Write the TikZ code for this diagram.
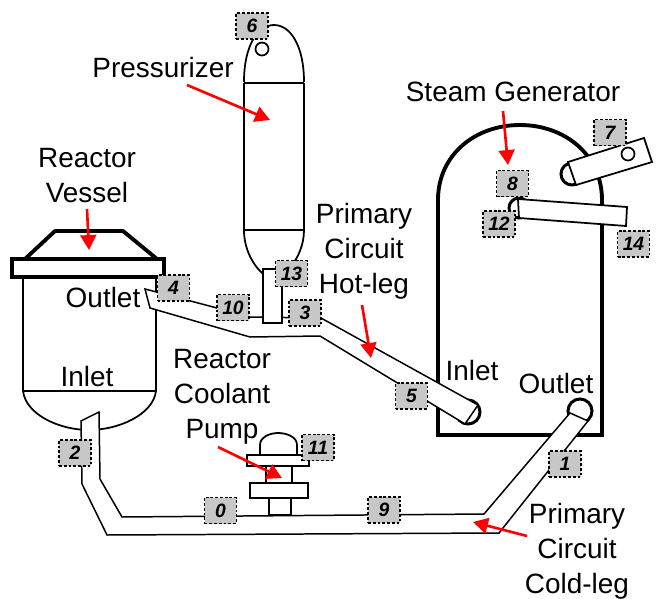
\documentclass[tikz,border=0pt]{standalone}
\usepackage{fontspec}
\setmainfont{Liberation Sans}
\usetikzlibrary{arrows.meta}
\tikzset{
  lbl/.style = {inner sep=0pt, outer sep=0pt, align=center,
                font=\fontsize{15.9}{19.9}\selectfont},
  tag/.style = {fill=black!22, draw, line width=0.8pt, dash pattern=on 1.6pt off 1.1pt,
                minimum width=18pt, minimum height=14.8pt, inner sep=0pt,
                font=\fontsize{11}{12}\selectfont\bfseries\itshape},
  pipe/.style = {fill=white, draw, line width=0.85pt, line join=miter},
  pointer/.style = {red, line width=1.5pt, -{Triangle[length=8.5pt,width=9pt]}}
}

\begin{document}
\begin{tikzpicture}[x=0.02cm,y=-0.02cm]
	\def \wall{1.7pt}
	\def \shell{2.2pt}
	\def \thin{1pt}

	\fill[white] (0,0) rectangle (657,598);

	% Reactor vessel
	\draw[line width=\shell, line join=round] (25,259) -- (55,231) -- (123,231) -- (157,259);
	\draw[line width=\wall] (23,277) -- (23,391);
	\draw[line width=\wall] (156,391) -- (156,277);
	\draw[line width=1.4pt] (23,391) -- (156,391);
	\draw[line width=\thin] (23,391) .. controls (26,415) and (60,430) .. (89,430) .. controls (118,430) and (153,415) .. (156,391);
	\draw[line width=\shell, fill=white] (12,259) rectangle (164,277);

	% Pressurizer
	\draw[line width=\thin] (244,82) .. controls (244,45) and (258,25) .. (274,25) .. controls (290,25) and (304,45) .. (304,82);
	\draw[line width=\thin] (244,83) -- (304,83);
	\draw[line width=1.4pt] (244,83) -- (244,230);
	\draw[line width=\thin] (304,83) -- (304,230);
	\draw[line width=\thin] (244,230) -- (304,230);
	\draw[line width=\thin] (244,230) .. controls (244,248) and (252,264) .. (263,274);
	\draw[line width=\thin] (304,230) .. controls (304,245) and (298,258) .. (290,268);
	\draw[line width=\thin] (262,49) circle (6.5);

	% Steam generator
	\draw[line width=\shell] (438,435) -- (438,200) .. controls (438,155) and (475,125) .. (520,125) .. controls (565,125) and (602,155) .. (602,200) -- (602,435) -- cycle;

	% Steam generator tubes
	\draw[line width=\wall, fill=white] (572,174) circle (11);
	\draw[pipe, line width=\thin] (568,162) -- (644,138) -- (652,162) -- (576,185) -- cycle;
	\draw[line width=\thin] (628,154) circle (6.5);
	\draw[line width=\wall, fill=white] (519,208) circle (10);
	\draw[pipe, line width=\thin] (518,199) -- (627,207) -- (626,226) -- (519,218) -- cycle;

	% Hot-leg
	\draw[line width=\wall, fill=white] (468,412) circle (12);
	\draw[pipe] (145,289) -- (217,308) -- (249,317) -- (321,318) -- (478,405) -- (465,424) -- (320,336) -- (250,337) -- (150,308) -- cycle;
	\draw[pipe] (263,269) rectangle (282,323);

	% Cold-leg
	\draw[line width=\wall, fill=white] (580,411) circle (12);
	\draw[pipe] (81,421) -- (99,412) -- (100,479) -- (122,517) -- (484,514) -- (570,413) -- (588,421) -- (499,533) -- (107,535) -- (82,484) -- cycle;

	% Pump
	\draw[line width=\thin, fill=white] (260,445) .. controls (260,437) and (270,433) .. (278,433) .. controls (287,433) and (297,437) .. (297,445) -- (297,455) -- (260,455) -- cycle;
	\draw[line width=\thin, fill=white] (266,466) rectangle (292,483);
	\draw[line width=\thin, fill=white] (269,498) rectangle (291,515);
	\draw[line width=\thin, fill=white] (247,455) rectangle (309,466);
	\draw[line width=\thin, fill=white] (250,483) rectangle (308,498);

	% Texts
	\node[lbl] (pressurizer) at (163,68) {Pressurizer};
	\node[lbl] (vessel) at (87,176) {Reactor\\Vessel};
	\node[lbl] (hotleg) at (364,251) {Primary\\Circuit\\Hot-leg};
	\node[lbl] (pump) at (222,397) {Reactor\\Coolant\\Pump};
	\node[lbl] (generator) at (513,92) {Steam Generator};
	\node[lbl] (coldleg) at (577,551) {Primary\\Circuit\\Cold-leg};
	\node[lbl] (outletrv) at (103,298) {Outlet};
	\node[lbl] (inletrv) at (87,377) {Inlet};
	\node[lbl] (inletsg) at (472,371) {Inlet};
	\node[lbl] (outletsg) at (556,384) {Outlet};

	% Pointers
	\coordinate (pressurizer end) at (270,120);
	\coordinate (vessel end) at (89,250);
	\coordinate (generator end) at (508,165);
	\coordinate (hotleg end) at (371,358);
	\coordinate (pump end) at (282,478);
	\coordinate (coldleg end) at (473,522);
	\draw[pointer] (187,85) -- (pressurizer end);
	\draw[pointer] (87,209) -- (vessel end);
	\draw[pointer] (503,111) -- (generator end);
	\draw[pointer] (362,305) -- (hotleg end);
	\draw[pointer] (218,447) -- (pump end);
	\draw[pointer] (527,536) -- (coldleg end);

	% Numbers
	\node[tag] (n0) at (220.5,510.5) {0};
	\node[tag] (n1) at (565,464) {1};
	\node[tag] (n2) at (75,453) {2};
	\node[tag] (n3) at (305,313) {3};
	\node[tag] (n4) at (173.5,288) {4};
	\node[tag] (n5) at (411.5,396) {5};
	\node[tag] (n6) at (252,26) {6};
	\node[tag] (n7) at (610,132.5) {7};
	\node[tag] (n8) at (512.5,183.5) {8};
	\node[tag] (n9) at (384,510) {9};
	\node[tag] (n10) at (233,307.5) {10};
	\node[tag] (n11) at (318,447.5) {11};
	\node[tag] (n12) at (499,224) {12};
	\node[tag] (n13) at (291.5,273.5) {13};
	\node[tag] (n14) at (633.5,244) {14};
\end{tikzpicture}
\end{document}
